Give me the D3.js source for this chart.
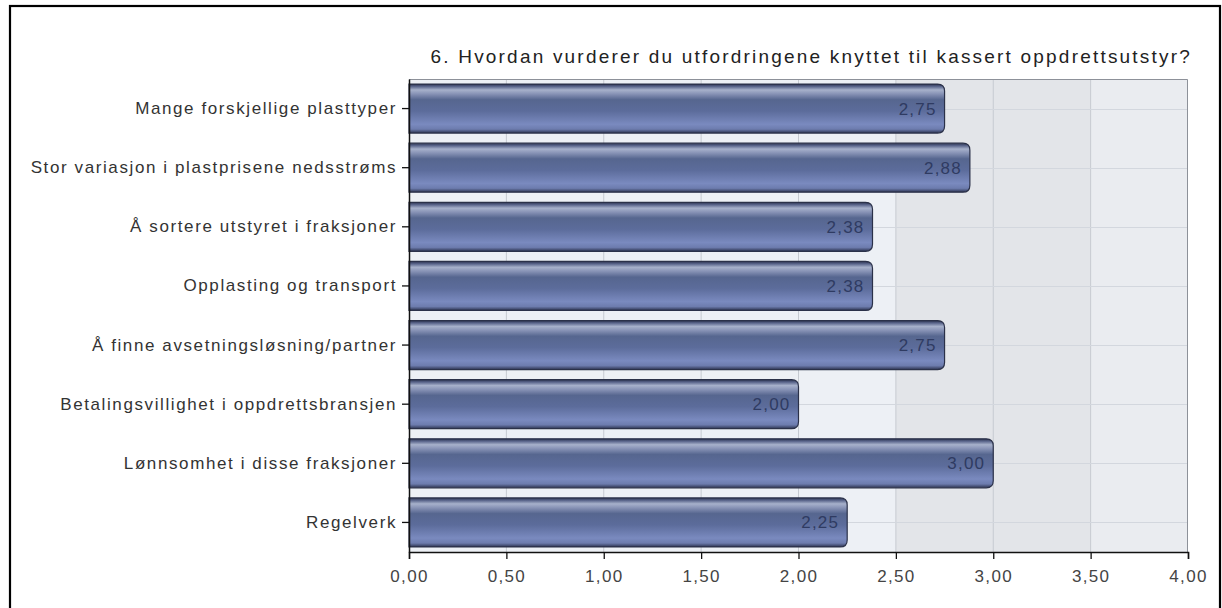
<!DOCTYPE html>
<html>
<head>
<meta charset="utf-8">
<script src="https://cdn.jsdelivr.net/npm/d3@7"></script>
<style>
  body { margin: 0; background: #fff; }
  text { font-family: "Liberation Sans", Arial, sans-serif; }
</style>
</head>
<body>
<div class="plot"></div>
<script>
// question title
var title = "6. Hvordan vurderer du utfordringene knyttet til kassert oppdrettsutstyr?";

// categories, top to bottom
var categories = [
	"Mange forskjellige plasttyper",
	"Stor variasjon i plastprisene nedsstrøms",
	"Å sortere utstyret i fraksjoner",
	"Opplasting og transport",
	"Å finne avsetningsløsning/partner",
	"Betalingsvillighet i oppdrettsbransjen",
	"Lønnsomhet i disse fraksjoner",
	"Regelverk"
];

// mean scores
var values = [2.75, 2.88, 2.38, 2.38, 2.75, 2.00, 3.00, 2.25];

// x axis ticks
var xTicks = [0, 0.5, 1, 1.5, 2, 2.5, 3, 3.5, 4];

var W = 1222, H = 608;
var m = {t:79, r:34, b:56, l:409},
	w = W - m.l - m.r,
	h = H - m.t - m.b;

var fmt = function(v){ return d3.format(".2f")(v).replace(".", ","); };

var svg = d3.select('.plot')
	.append('svg')
	.attr('width', W)
	.attr('height', H);

// outer frame
svg.append('rect')
	.attr('x', 10).attr('y', 6)
	.attr('width', 1210).attr('height', 640)
	.style('fill', 'none')
	.style('stroke', '#000')
	.style('stroke-width', 2.2);

var defs = svg.append('defs');
var grad = defs.append('linearGradient')
	.attr('id', 'barGrad')
	.attr('x1', 0).attr('y1', 0).attr('x2', 0).attr('y2', 1);
[
	[0, '#2c3350'], [0.05, '#59648a'], [0.12, '#a7b1cb'], [0.2, '#8893b6'],
	[0.32, '#56668f'], [0.55, '#5c6c9b'], [0.82, '#7a8abf'], [0.92, '#6d7cae'],
	[1, '#2c3350']
].forEach(function(s){
	grad.append('stop').attr('offset', s[0]).attr('stop-color', s[1]);
});

var x = d3.scaleLinear().domain([0, 4]).range([0, w]);
var y = d3.scaleBand().domain(categories).range([0, h]).paddingInner(0.17).paddingOuter(0.085);

var g = svg.append('g')
	.attr('class', 'canvas')
	.attr('transform', 'translate(' + m.l + ',' + m.t + ')');

// plot background bands
var bgBands = [[0, 2.5, '#edf0f5'], [2.5, 3.5, '#e3e5e9'], [3.5, 4, '#eaecf0']];
g.selectAll('.bg')
	.data(bgBands)
	.enter()
	.append('rect')
	.attr('class', 'bg')
	.attr('x', function(d){ return x(d[0]); })
	.attr('y', 0)
	.attr('width', function(d){ return x(d[1]) - x(d[0]); })
	.attr('height', h)
	.style('fill', function(d){ return d[2]; });

// vertical grid
g.selectAll('.vgrid')
	.data(xTicks.slice(1, -1))
	.enter()
	.append('line')
	.attr('class', 'vgrid')
	.attr('x1', function(d){ return x(d); })
	.attr('x2', function(d){ return x(d); })
	.attr('y1', 0).attr('y2', h)
	.style('stroke', '#c6cad1')
	.style('stroke-width', 1);

// horizontal grid at category centres
var yc = function(d){ return Math.round(y(d) + y.bandwidth() / 2) + 0.5; };
g.selectAll('.hgrid')
	.data(categories)
	.enter()
	.append('line')
	.attr('class', 'hgrid')
	.attr('x1', 0).attr('x2', w)
	.attr('y1', yc).attr('y2', yc)
	.style('stroke', '#d3d7de');

// plot border top/right
g.append('path')
	.attr('d', 'M0,0.5H' + (w - 0.5) + 'V' + h)
	.style('fill', 'none')
	.style('stroke', '#8d9199');

// bars with rounded right end
function barPath(d, i){
	var x0 = 0, x1 = x(values[i]), y0 = y(d), y1 = y(d) + y.bandwidth(), r = 7;
	var p = d3.path();
	p.moveTo(x0, y0);
	p.lineTo(x1 - r, y0);
	p.quadraticCurveTo(x1, y0, x1, y0 + r);
	p.lineTo(x1, y1 - r);
	p.quadraticCurveTo(x1, y1, x1 - r, y1);
	p.lineTo(x0, y1);
	p.closePath();
	return p.toString();
}

g.selectAll('.bar')
	.data(categories)
	.enter()
	.append('path')
	.attr('class', 'bar')
	.attr('d', barPath)
	.style('fill', 'url(#barGrad)')
	.style('stroke', '#2b3149')
	.style('stroke-width', 1.2);

// value labels
g.selectAll('.val')
	.data(categories)
	.enter()
	.append('text')
	.attr('class', 'val')
	.attr('x', function(d, i){ return x(values[i]) - 8; })
	.attr('y', function(d){ return y(d) + y.bandwidth() / 2 + 6; })
	.attr('text-anchor', 'end')
	.style('font-size', '17px')
	.style('letter-spacing', '1.2px')
	.style('fill', '#2f3b62')
	.text(function(d, i){ return fmt(values[i]); });

// axes
var xAxis = g.append('g')
	.attr('transform', 'translate(0,' + h + ')')
	.call(d3.axisBottom(x).tickValues(xTicks).tickFormat(fmt).tickSizeInner(7).tickSizeOuter(7));
xAxis.select('.domain').style('stroke', '#111').style('stroke-width', 1.5);
xAxis.selectAll('.tick line').style('stroke', '#111').style('stroke-width', 1.3);
xAxis.selectAll('.tick text')
	.attr('dy', '1.15em')
	.style('font-size', '17px')
	.style('letter-spacing', '1.3px')
	.style('fill', '#444')
	.style('font-family', '"Liberation Sans", Arial, sans-serif');

var yAxis = g.append('g')
	.call(d3.axisLeft(y).tickSizeInner(7).tickSizeOuter(0).tickPadding(5));
yAxis.select('.domain').style('stroke', '#111').style('stroke-width', 1.5);
yAxis.selectAll('.tick line').style('stroke', '#111').style('stroke-width', 1.3);
yAxis.selectAll('.tick text')
	.style('font-size', '17px')
	.style('letter-spacing', '1.6px')
	.style('fill', '#333')
	.style('font-family', '"Liberation Sans", Arial, sans-serif');

// title
svg.append('text')
	.attr('x', m.l + w + 4)
	.attr('y', 63)
	.attr('text-anchor', 'end')
	.style('font-size', '19px')
	.style('letter-spacing', '2.2px')
	.style('fill', '#222')
	.text(title);
</script>
</body>
</html>
